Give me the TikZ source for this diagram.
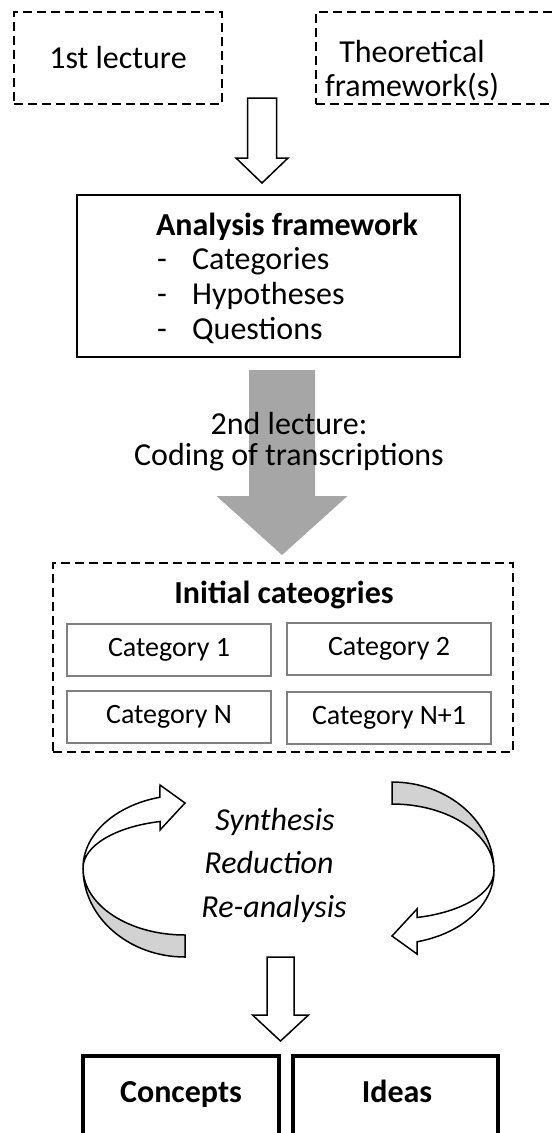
\documentclass[tikz,border=0pt]{standalone}
\usepackage{fontspec}
\setmainfont{Carlito}
\usetikzlibrary{shapes.geometric}

\tikzset{
  dashbox/.style={draw, dash pattern=on 9pt off 5pt, line width=1.4pt, inner sep=0pt},
  framebox/.style={draw, line width=1.5pt, inner sep=0pt},
  catbox/.style={draw=black!50, line width=1.2pt, inner sep=0pt,
    minimum width=204, minimum height=52, font=\fontsize{28}{33}\selectfont},
  resultbox/.style={draw, line width=3.5pt, inner sep=0pt},
  bigtxt/.style={font=\fontsize{32}{34}\selectfont, inner sep=0pt},
  boldtxt/.style={font=\fontsize{32}{36}\selectfont\bfseries, inner sep=0pt},
  looptxt/.style={font=\fontsize{32}{36}\selectfont\itshape, inner sep=0pt},
  openarrow/.style={draw, fill=white, line width=1.5pt, line join=miter},
  loopband/.style={draw, line width=1.5pt, line join=miter}
}

\begin{document}
\begin{tikzpicture}[x=1pt,y=-1pt]
  \useasboundingbox (0,0) rectangle (554,1133);
  \clip (0,0) rectangle (554,1133);

  % inputs
  \node[dashbox, bigtxt, minimum width=208, minimum height=92] (lecture1) at (118,58) {1st lecture};
  \node[dashbox, minimum width=254, minimum height=92] (theorybox) at (443,58) {};
  \node[bigtxt, align=center, anchor=base] (theory) at (412,96) {Theoretical\\framework(s)};

  \draw[openarrow] (247.5,98) -- (276.5,98) -- (276.5,158) -- (288,158) -- (262,183)
    -- (236,158) -- (247.5,158) -- cycle;

  % analysis framework
  \node[framebox, minimum width=383, minimum height=162] (anaframe) at (268.5,276) {};
  \node[boldtxt, anchor=base] (anatitle) at (287,235) {Analysis framework};
  \node[bigtxt, anchor=base west] (item1) at (157,269) {\makebox[35pt][l]{-}Categories};
  \node[bigtxt, anchor=base west] (item2) at (157,304) {\makebox[35pt][l]{-}Hypotheses};
  \node[bigtxt, anchor=base west] (item3) at (157,339) {\makebox[35pt][l]{-}Questions};

  % coding step
  \fill[gray!70] (249,370) -- (315,370) -- (315,496) -- (347.5,496) -- (282,555)
    -- (216.5,496) -- (249,496) -- cycle;
  \node[bigtxt, align=center, anchor=base, font=\fontsize{32}{31}\selectfont] (coding) at (289,465)
    {2nd lecture:\\Coding of transcriptions};

  % initial categories
  \node[dashbox, minimum width=460, minimum height=189] (initcat) at (283,657.5) {};
  \node[boldtxt, anchor=base] (inittitle) at (284,603) {Initial cateogries};
  \node[catbox] (cat1) at (169,650) {Category 1};
  \node[catbox] (cat2) at (389,649) {Category 2};
  \node[catbox] (catn) at (169,717) {Category N};
  \node[catbox] (catn1) at (389,718) {Category N+1};

  % loop arrows
  \foreach \r in {0,180}{
    \begin{scope}[rotate around={\r:(288.5,869.5)}]
      \draw[loopband, fill=gray!35] (185,957) arc[start angle=90, end angle=180, x radius=102, y radius=89]
        arc[start angle=180, end angle=90, x radius=102, y radius=67] -- cycle;
      \draw[loopband, fill=white] (83,868) arc[start angle=180, end angle=255.8, x radius=102, y radius=73]
        -- (160,785) -- (185,803) -- (160,830) -- (160,821.5)
        arc[start angle=255.8, end angle=180, x radius=102, y radius=48] -- cycle;
    \end{scope}
  }
  \node[looptxt, anchor=base] (synth) at (275,830) {Synthesis};
  \node[looptxt, anchor=base] (reduc) at (269,873) {Reduction};
  \node[looptxt, anchor=base] (reana) at (274,917) {Re-analysis};

  \draw[openarrow] (267,957) -- (294,957) -- (294,1015) -- (308.5,1015) -- (280.5,1041)
    -- (252.5,1015) -- (267,1015) -- cycle;

  % results
  \node[resultbox, minimum width=196, minimum height=110] (concbox) at (181,1111) {};
  \node[resultbox, minimum width=205, minimum height=110] (ideabox) at (395.5,1111) {};
  \node[boldtxt, anchor=base] (concepts) at (181,1102) {Concepts};
  \node[boldtxt, anchor=base] (ideas) at (397,1102) {Ideas};
\end{tikzpicture}
\end{document}
